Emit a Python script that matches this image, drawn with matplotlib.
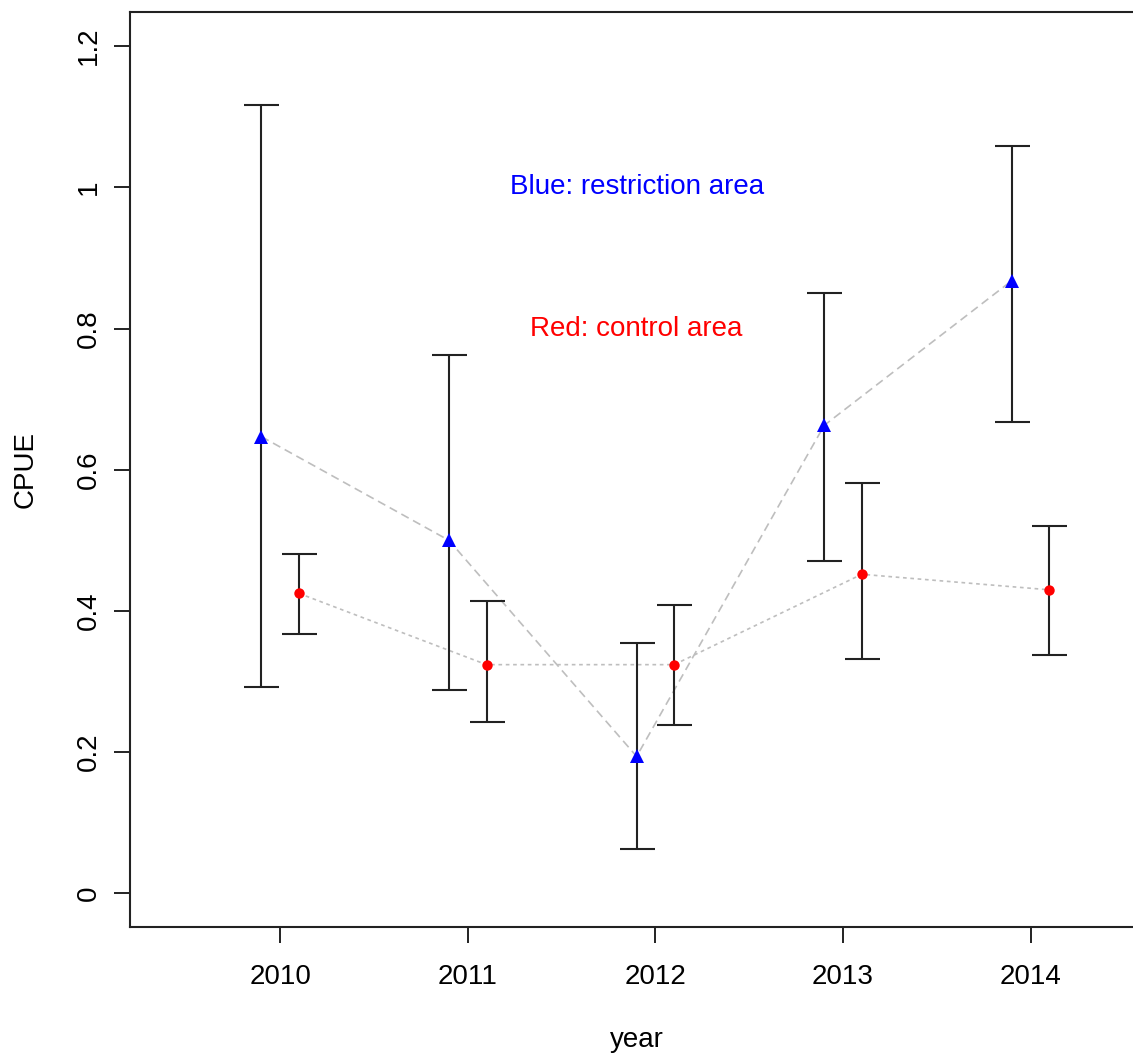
import numpy as np
import matplotlib
matplotlib.use("Agg")
import matplotlib.pyplot as plt

plt.rcParams['font.family'] = ['Liberation Sans', 'DejaVu Sans']

# data
years = [2010, 2011, 2012, 2013, 2014]
# restriction area (blue)
blue_cpue = [0.647, 0.500, 0.194, 0.663, 0.868]
blue_low = [0.293, 0.288, 0.063, 0.471, 0.667]
blue_high = [1.117, 0.762, 0.354, 0.851, 1.058]
# control area (red)
red_cpue = [0.425, 0.324, 0.324, 0.452, 0.430]
red_low = [0.367, 0.243, 0.238, 0.332, 0.337]
red_high = [0.481, 0.414, 0.409, 0.581, 0.521]

yticks = [0, 0.2, 0.4, 0.6, 0.8, 1.0, 1.2]
ytick_labels = ["0", "0.2", "0.4", "0.6", "0.8", "1", "1.2"]

x = np.array(years, dtype=float)
xb = x - 0.1
xr = x + 0.1

fig = plt.figure(figsize=(11.33, 10.57), dpi=100)
# right edge of the box lies just outside the picture, as in the original
ax = fig.add_axes([0.11474, 0.12271, 0.8943, 0.86566])

ax.plot(xb, blue_cpue, color='#bebebe', lw=1.2, dashes=(5, 3), zorder=1)
ax.plot(xr, red_cpue, color='#bebebe', lw=1.2, dashes=(2.2, 2.2), zorder=1)

b = np.array(blue_cpue)
r = np.array(red_cpue)
ax.errorbar(xb, b, yerr=[b - np.array(blue_low), np.array(blue_high) - b],
            fmt='none', ecolor='#222222', elinewidth=1.5, capsize=12.6,
            capthick=1.5, zorder=2)
ax.errorbar(xr, r, yerr=[r - np.array(red_low), np.array(red_high) - r],
            fmt='none', ecolor='#222222', elinewidth=1.5, capsize=12.6,
            capthick=1.5, zorder=2)
ax.plot(xb, b, linestyle='none', marker='^', color='#0000ff', markersize=10,
        markeredgewidth=0, zorder=3)
ax.plot(xr, r, linestyle='none', marker='o', color='#ff0000', markersize=7.5,
        markeredgewidth=0, zorder=3)

ax.text(2011.9, 1.0, "Blue: restriction area", color='#0000ff', fontsize=20,
        ha='center', va='center')
ax.text(2011.9, 0.8, "Red: control area", color='#ff0000', fontsize=20,
        ha='center', va='center')

ax.set_xlim(2009.2, 2014.6)
ax.set_ylim(-0.048, 1.248)
ax.set_xticks(years)
ax.set_xticklabels([str(y) for y in years])
ax.set_yticks(yticks)
ax.set_yticklabels(ytick_labels, rotation=90, va='center')
ax.tick_params(axis='both', length=11.5, width=1.4, labelsize=20, color='#222222')
ax.tick_params(axis='x', pad=15)
ax.tick_params(axis='y', pad=9)
for s in ax.spines.values():
    s.set_linewidth(1.5)
    s.set_color('#222222')

ax.set_xlabel("year", fontsize=20)
ax.xaxis.label.set_va('center')
ax.xaxis.set_label_coords(0.5, (927.3 - 1040) / 915)
ax.set_ylabel("CPUE", fontsize=20)
ax.yaxis.label.set_va('center')
ax.yaxis.set_label_coords((26 - 130) / 1013.3, 0.5)

fig.savefig("out.png", dpi=100)
